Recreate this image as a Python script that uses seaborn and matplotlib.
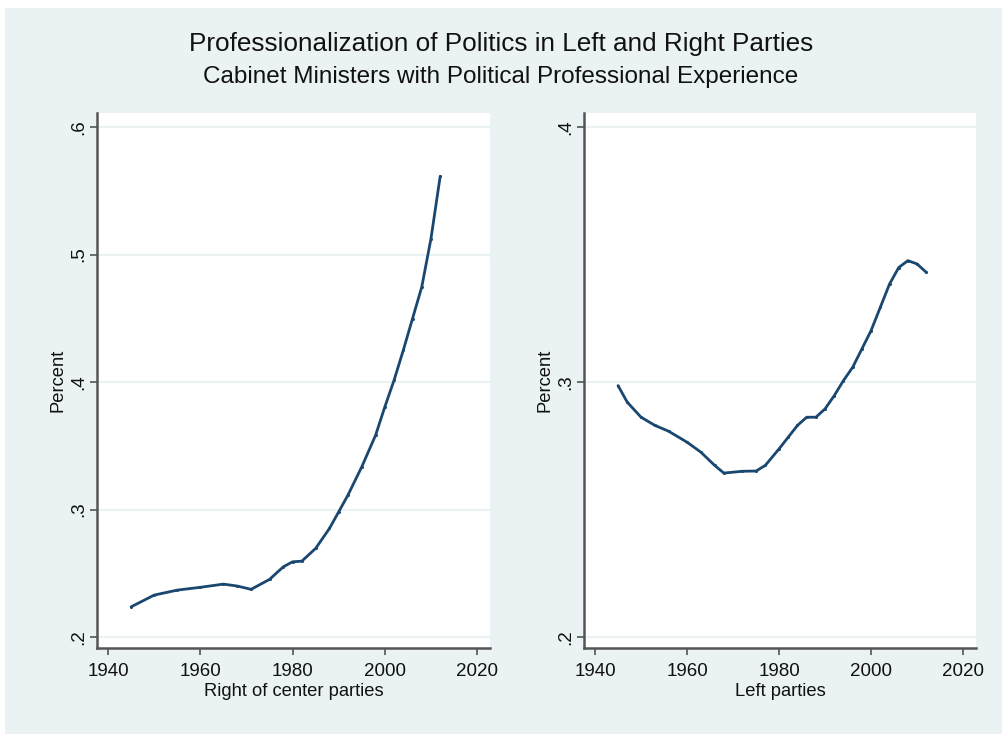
import matplotlib
matplotlib.use("Agg")
import matplotlib.pyplot as plt
from matplotlib.patches import Rectangle
import pandas as pd
import seaborn as sns

# Share of cabinet ministers with political professional experience (smoothed)
right_years = [1945, 1950, 1955, 1960, 1965, 1968, 1971, 1975, 1978, 1980, 1982,
               1985, 1988, 1990, 1992, 1995, 1998, 2000, 2002, 2004, 2006, 2008,
               2010, 2012]
right_share = [0.2237, 0.2329, 0.2368, 0.2390, 0.2415, 0.2400, 0.2374, 0.2452,
               0.2551, 0.2590, 0.2595, 0.2695, 0.2852, 0.2982, 0.3113, 0.3335,
               0.3583, 0.3805, 0.4014, 0.4249, 0.4497, 0.4745, 0.5124, 0.5613]

left_years = [1945, 1947, 1950, 1953, 1956, 1960, 1963, 1966, 1968, 1972, 1975,
              1977, 1980, 1982, 1984, 1986, 1988, 1990, 1992, 1994, 1996, 1998,
              2000, 2002, 2004, 2006, 2008, 2010, 2012]
left_share = [0.2986, 0.2921, 0.2862, 0.2830, 0.2807, 0.2764, 0.2725, 0.2673,
              0.2643, 0.2650, 0.2651, 0.2673, 0.2738, 0.2784, 0.2830, 0.2862,
              0.2862, 0.2895, 0.2947, 0.3006, 0.3058, 0.3130, 0.3202, 0.3293,
              0.3384, 0.3449, 0.3476, 0.3463, 0.3430]

x_ticks = [1940, 1960, 1980, 2000, 2020]
right_yticks = [0.2, 0.3, 0.4, 0.5, 0.6]
right_yticklabels = [".2", ".3", ".4", ".5", ".6"]
left_yticks = [0.2, 0.3, 0.4]
left_yticklabels = [".2", ".3", ".4"]

title = "Professionalization of Politics in Left and Right Parties"
subtitle = "Cabinet Ministers with Political Professional Experience"

sns.set_theme(style="white")
plt.rcParams["font.family"] = ["Liberation Sans", "DejaVu Sans"]

BG = "#eaf2f3"
LINE = "#1a476f"
AXIS = "#555555"

fig = plt.figure(figsize=(10.02, 7.34), dpi=100, facecolor="white")
fig.patches.append(Rectangle((5 / 1002, 0), 1 - 5 / 1002, (734 - 8) / 734,
                             transform=fig.transFigure, facecolor=BG,
                             edgecolor="none", zorder=-10))

fig.text(0.5, 1 - 44 / 734, title, ha="center", va="center", fontsize=18.8,
         color="#111111")
fig.text(0.5, 1 - 77 / 734, subtitle, ha="center", va="center", fontsize=17.5,
         color="#111111")

ax_bottom = (734 - 648) / 734
ax_height = 535 / 734
ax1 = fig.add_axes([97 / 1002, ax_bottom, 393 / 1002, ax_height])
ax2 = fig.add_axes([584 / 1002, ax_bottom, 392 / 1002, ax_height])

panels = [
    (ax1, right_years, right_share, right_yticks, right_yticklabels,
     (0.1914, 0.6110), "Right of center parties"),
    (ax2, left_years, left_share, left_yticks, left_yticklabels,
     (0.1957, 0.4055), "Left parties"),
]

for ax, yrs, vals, yt, ytl, ylim, xlabel in panels:
    df = pd.DataFrame({"year": yrs, "share": vals})
    ax.set_facecolor("white")
    sns.lineplot(data=df, x="year", y="share", ax=ax, color=LINE,
                 linewidth=2.0, marker="o", markersize=2.2,
                 markeredgewidth=0, estimator=None, sort=True)
    ax.set_xlim(1937.6, 2022.8)
    ax.set_ylim(*ylim)
    ax.set_xticks(x_ticks)
    ax.set_xticklabels([str(t) for t in x_ticks])
    ax.set_yticks(yt)
    ax.set_yticklabels(ytl, rotation=90, va="center")
    ax.grid(axis="y", color=BG, linewidth=1.5)
    ax.grid(axis="x", visible=False)
    ax.set_axisbelow(True)
    for side in ("top", "right"):
        ax.spines[side].set_visible(False)
    for side in ("left", "bottom"):
        ax.spines[side].set_visible(True)
        ax.spines[side].set_color(AXIS)
        ax.spines[side].set_linewidth(1.8)
    ax.tick_params(axis="both", which="major", length=5, width=1.2,
                   color=AXIS, labelsize=13.5, labelcolor="#111111",
                   direction="out", left=True, bottom=True)
    ax.tick_params(axis="y", pad=2)
    ax.tick_params(axis="x", pad=6)
    ax.set_xlabel(xlabel, fontsize=13.2, color="#111111", labelpad=2)
    ax.set_ylabel("Percent", fontsize=13.2, color="#111111", labelpad=3)

fig.savefig("out.png", dpi=100, facecolor="white")
